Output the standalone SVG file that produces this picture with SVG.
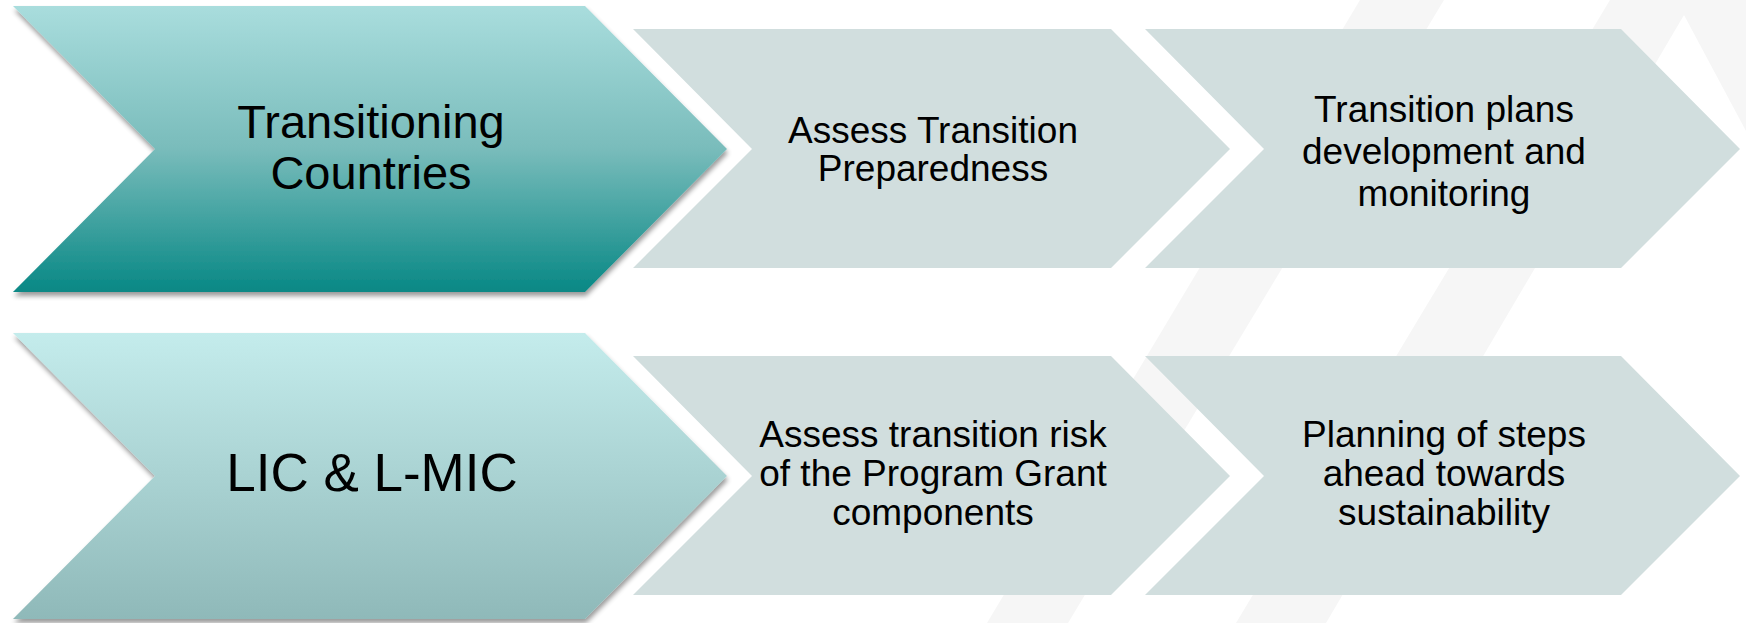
<svg xmlns="http://www.w3.org/2000/svg" width="1746" height="623" viewBox="0 0 1746 623">
  <defs>
    <linearGradient id="gradTeal" x1="0" y1="0" x2="0" y2="1">
      <stop offset="0" stop-color="#a9dddd"/>
      <stop offset="0.5" stop-color="#79bcbb"/>
      <stop offset="1" stop-color="#088885"/>
    </linearGradient>
    <linearGradient id="gradPale" x1="0" y1="0" x2="0" y2="1">
      <stop offset="0" stop-color="#c4ecec"/>
      <stop offset="1" stop-color="#8fb9b9"/>
    </linearGradient>
    <filter id="dropShadow" x="-5%" y="-5%" width="112%" height="115%">
      <feGaussianBlur in="SourceAlpha" stdDeviation="2.5"/>
      <feOffset dx="1" dy="4" result="blur"/>
      <feComponentTransfer>
        <feFuncA type="linear" slope="0.4"/>
      </feComponentTransfer>
      <feMerge>
        <feMergeNode/>
        <feMergeNode in="SourceGraphic"/>
      </feMerge>
    </filter>
  </defs>
  <style>
    .bg { fill: #f6f6f6; }
    .step { fill: #d1dede; }
    .big { font-family: "Liberation Sans", Arial, sans-serif; font-size: 47px; fill: #000; text-anchor: middle; }
    .big2 { font-family: "Liberation Sans", Arial, sans-serif; font-size: 53px; fill: #000; text-anchor: middle; }
    .lbl { font-family: "Liberation Sans", Arial, sans-serif; font-size: 37px; fill: #000; text-anchor: middle; }
  </style>

  <rect width="1746" height="623" fill="#ffffff"/>

  <!-- faint background bands -->
  <g id="background">
    <polygon class="bg" points="1360,0 1444,0 1068,623 987,623"/>
    <polygon class="bg" points="1610,0 1746,0 1746,131 1684,15 1326,623 1236,623"/>
  </g>

  <!-- row 1 -->
  <g id="transitioning-countries">
    <polygon points="13,6 585,6 727,149 585,292 13,292 155,149" fill="url(#gradTeal)" filter="url(#dropShadow)"/>
    <text class="big" x="371" y="138">Transitioning</text>
    <text class="big" x="371" y="189">Countries</text>
  </g>
  <g id="assess-preparedness">
    <polygon class="step" points="633,29 1111,29 1230,149 1111,268 633,268 752,149"/>
    <text class="lbl" x="933" y="143">Assess Transition</text>
    <text class="lbl" x="933" y="181">Preparedness</text>
  </g>
  <g id="transition-plans">
    <polygon class="step" points="1145,29 1621,29 1740,149 1621,268 1145,268 1264,149"/>
    <text class="lbl" x="1444" y="122">Transition plans</text>
    <text class="lbl" x="1444" y="164">development and</text>
    <text class="lbl" x="1444" y="206">monitoring</text>
  </g>

  <!-- row 2 -->
  <g id="lic-lmic">
    <polygon points="13,333 585,333 727,476 585,619 13,619 155,476" fill="url(#gradPale)" filter="url(#dropShadow)"/>
    <text class="big2" x="372" y="491">LIC &amp; L-MIC</text>
  </g>
  <g id="assess-risk">
    <polygon class="step" points="633,356 1111,356 1230,476 1111,595 633,595 752,476"/>
    <text class="lbl" x="933" y="447">Assess transition risk</text>
    <text class="lbl" x="933" y="486">of the Program Grant</text>
    <text class="lbl" x="933" y="525">components</text>
  </g>
  <g id="planning-steps">
    <polygon class="step" points="1145,356 1621,356 1740,476 1621,595 1145,595 1264,476"/>
    <text class="lbl" x="1444" y="447">Planning of steps</text>
    <text class="lbl" x="1444" y="486">ahead towards</text>
    <text class="lbl" x="1444" y="525">sustainability</text>
  </g>

  <!-- no connectors between the steps; the chevrons imply the sequence -->
  <g id="connectors"/>
</svg>
